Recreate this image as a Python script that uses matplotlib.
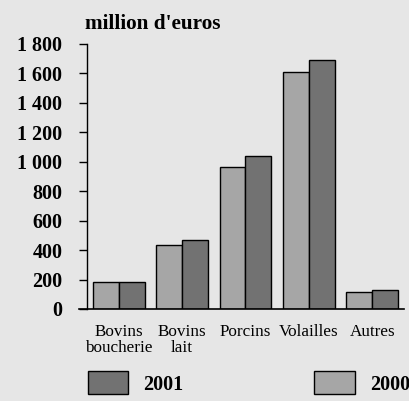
import matplotlib
matplotlib.use("Agg")
import matplotlib.pyplot as plt
import numpy as np

categories = ["Bovins\nboucherie", "Bovins\nlait", "Porcins", "Volailles", "Autres"]
values_2000 = [181, 435, 965, 1610, 113]
values_2001 = [180, 467, 1039, 1687, 129]
yticks = [0, 200, 400, 600, 800, 1000, 1200, 1400, 1600, 1800]
ytick_labels = ["0", "200", "400", "600", "800", "1 000", "1 200", "1 400", "1 600", "1 800"]
title = "million d'euros"

BG = "#e6e6e6"
C2000 = "#a6a6a6"
C2001 = "#727272"
FONT = "Liberation Serif"

fig = plt.figure(figsize=(4.10, 4.01), dpi=100, facecolor=BG)
ax = fig.add_axes([87/410, 1-309/401, 317/410, (309-43.7)/401])
ax.set_facecolor(BG)

x = np.arange(len(categories))
w = 0.41
b0 = ax.bar(x - w/2, values_2000, w, color=C2000, edgecolor="black", linewidth=1.0, label="2000")
b1 = ax.bar(x + w/2, values_2001, w, color=C2001, edgecolor="black", linewidth=1.0, label="2001")

ax.set_xlim(-0.5, 4.5)
ax.set_ylim(0, 1800)
ax.set_yticks(yticks)
ax.set_yticklabels(ytick_labels, fontfamily=FONT, fontweight="bold", fontsize=14.5)
ax.set_xticks(x)
ax.set_xticklabels(categories, fontfamily=FONT, fontsize=12.3, linespacing=1.0)
ax.tick_params(axis="x", length=0, pad=11)
ax.tick_params(axis="y", length=5.8, width=1.0, pad=12, color="black")

for s in ["top", "right"]:
    ax.spines[s].set_visible(False)
ax.spines["left"].set_linewidth(1.0)
ax.spines["bottom"].set_linewidth(1.2)
ax.spines["bottom"].set_bounds(-0.5 - 8/63.4, 4.5)

fig.text(85/410, 1-29/401, title, fontfamily=FONT, fontweight="bold", fontsize=15.3,
         ha="left", va="baseline")

fig.legend(handles=[b1, b0], labels=["2001", "2000"], ncol=2, frameon=False,
           loc="center left", bbox_to_anchor=(88/410, 1-383/401),
           prop={"family": FONT, "weight": "bold", "size": 14.5},
           handlelength=2.0, handleheight=1.35, handletextpad=0.75,
           columnspacing=6.5, borderpad=0, borderaxespad=0)

fig.savefig("out.png", dpi=100, facecolor=BG)
